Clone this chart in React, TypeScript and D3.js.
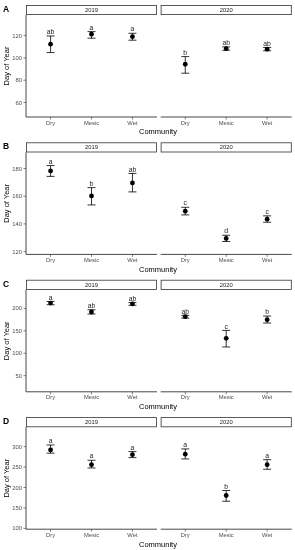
import React from "react";
import * as d3 from "d3";

const communities = ["Dry", "Mesic", "Wet"];
const years = ["2019", "2020"];
const panelLabels = ["A", "B", "C", "D"];

// mean, lower and upper per panel: [2019 values, 2020 values]
const meanA = [[112.3, 121.3, 119.1], [94.3, 108.3, 107.8]];
const lowA = [[104.8, 117.7, 115.9], [86.3, 106.9, 106.4]];
const highA = [[119.7, 123.6, 122.1], [101.2, 109.9, 109.3]];
const lettersA = [["ab", "a", "a"], ["b", "ab", "ab"]];

const meanB = [[178.2, 160.2, 169.6], [149.2, 129.5, 143.4]];
const lowB = [[174.3, 153.7, 163.1], [146.5, 127.3, 141.2]];
const highB = [[182.1, 166.2, 176.4], [152.0, 131.8, 145.8]];
const lettersB = [["a", "b", "ab"], ["c", "d", "c"]];

const meanC = [[212.0, 192.0, 210.0], [181.5, 133.3, 174.8]];
const lowC = [[208.2, 187.5, 207.0], [178.5, 114.0, 167.4]];
const highC = [[215.5, 197.0, 213.0], [184.5, 151.0, 183.0]];
const lettersC = [["a", "ab", "ab"], ["ab", "c", "b"]];

const meanD = [[292.0, 255.9, 280.4], [281.4, 180.4, 255.9]];
const lowD = [[284.0, 247.8, 273.1], [269.9, 166.4, 244.6]];
const highD = [[304.0, 266.6, 287.8], [294.4, 192.6, 268.1]];
const lettersD = [["a", "a", "a"], ["a", "b", "a"]];

const domainA = [47, 138.5];
const domainB = [118, 191.6];
const domainC = [14, 241.5];
const domainD = [98, 347.5];

const ticksA = [60, 80, 100, 120];
const ticksB = [120, 140, 160, 180];
const ticksC = [50, 100, 150, 200];
const ticksD = [100, 150, 200, 250, 300];

const panels = [
  { mean: meanA, low: lowA, high: highA, letters: lettersA, domain: domainA, ticks: ticksA },
  { mean: meanB, low: lowB, high: highB, letters: lettersB, domain: domainB, ticks: ticksB },
  { mean: meanC, low: lowC, high: highC, letters: lettersC, domain: domainC, ticks: ticksC },
  { mean: meanD, low: lowD, high: highD, letters: lettersD, domain: domainD, ticks: ticksD },
];

const W = 295;
const H = 550;
const font = "'Liberation Sans', Arial, Helvetica, sans-serif";
const facetX = [
  [26, 157],
  [160.7, 291.7],
];
const stripH = 10;
const plotH = 102;
const panelStep = 137.4;

const Panel: React.FC<{ idx: number }> = ({ idx }) => {
  const p = panels[idx];
  const top = 5 + idx * panelStep;
  const plotTop = top + stripH;
  const plotBottom = plotTop + plotH;
  const y = d3.scaleLinear().domain(p.domain).range([plotBottom, plotTop]);

  return (
    <g>
      <text x={3} y={top + 7} fontFamily={font} fontWeight="bold" fontSize={8.5} fill="#000">
        {panelLabels[idx]}
      </text>
      <text
        transform={`translate(8.5, ${(plotTop + plotBottom) / 2}) rotate(-90)`}
        textAnchor="middle"
        fontFamily={font}
        fontSize={7.5}
        fill="#000"
      >
        Day of Year
      </text>
      {p.ticks.map((t) => (
        <g key={t}>
          <line x1={23.5} x2={26} y1={y(t)} y2={y(t)} stroke="#333" strokeWidth={0.6} />
          <text
            x={22}
            y={y(t)}
            dy="0.35em"
            textAnchor="end"
            fontFamily={font}
            fontSize={5.8}
            fill="#4d4d4d"
          >
            {t}
          </text>
        </g>
      ))}
      {years.map((yr, fi) => {
        const [x0, x1] = facetX[fi];
        const x = d3.scalePoint().domain(communities).range([x0, x1]).padding(0.6);
        return (
          <g key={yr}>
            <rect
              x={x0 + 0.4}
              y={top + 0.4}
              width={x1 - x0 - 0.8}
              height={stripH - 0.8}
              fill="#fff"
              stroke="#333"
              strokeWidth={0.8}
            />
            <text
              x={(x0 + x1) / 2}
              y={top + stripH / 2}
              dy="0.35em"
              textAnchor="middle"
              fontFamily={font}
              fontSize={5.8}
              fill="#1a1a1a"
            >
              {yr}
            </text>
            {fi === 0 && (
              <line x1={x0} x2={x0} y1={plotTop} y2={plotBottom} stroke="#333" strokeWidth={0.9} />
            )}
            <line x1={x0} x2={x1} y1={plotBottom} y2={plotBottom} stroke="#333" strokeWidth={0.9} />
            {communities.map((c, ci) => {
              const cx = x(c) as number;
              const m = p.mean[fi][ci];
              const lo = p.low[fi][ci];
              const hi = p.high[fi][ci];
              return (
                <g key={c}>
                  <line x1={cx} x2={cx} y1={plotBottom} y2={plotBottom + 2.5} stroke="#333" strokeWidth={0.6} />
                  <text
                    x={cx}
                    y={plotBottom + 7.5}
                    textAnchor="middle"
                    fontFamily={font}
                    fontSize={5.8}
                    fill="#4d4d4d"
                  >
                    {c}
                  </text>
                  <line x1={cx} x2={cx} y1={y(lo)} y2={y(hi)} stroke="#000" strokeWidth={0.8} />
                  <line x1={cx - 4} x2={cx + 4} y1={y(lo)} y2={y(lo)} stroke="#000" strokeWidth={0.8} />
                  <line x1={cx - 4} x2={cx + 4} y1={y(hi)} y2={y(hi)} stroke="#000" strokeWidth={0.8} />
                  <circle cx={cx} cy={y(m)} r={2.4} fill="#000" />
                  <text
                    x={cx}
                    y={y(hi) - 1.8}
                    textAnchor="middle"
                    fontFamily={font}
                    fontSize={6.8}
                    fill="#222"
                  >
                    {p.letters[fi][ci]}
                  </text>
                </g>
              );
            })}
          </g>
        );
      })}
      <text
        x={158}
        y={plotBottom + 17.3}
        textAnchor="middle"
        fontFamily={font}
        fontSize={7.5}
        fill="#000"
      >
        Community
      </text>
    </g>
  );
};

export default function App() {
  return (
    <svg
      width={W}
      height={H}
      style={{ position: "absolute", left: 0, top: 0, background: "#fff", filter: "grayscale(1)" }}
    >
      <rect width={W} height={H} fill="#fff" />
      {panels.map((_, i) => (
        <Panel key={i} idx={i} />
      ))}
    </svg>
  );
}
